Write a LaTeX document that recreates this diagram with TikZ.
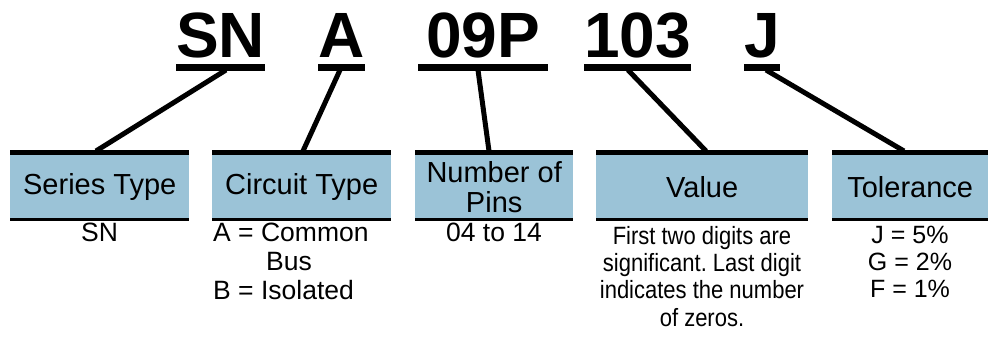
\documentclass[tikz,border=0pt]{standalone}
\usepackage{fontspec}
\setmainfont{Liberation Sans}
\frenchspacing
\definecolor{boxblue}{RGB}{155,195,215}
\begin{document}
\begin{tikzpicture}[x=1pt,y=-1pt,
  code/.style={font=\fontsize{64}{64}\selectfont\bfseries, anchor=base, inner sep=0pt},
  uline/.style={fill=black, inner sep=0pt, minimum height=7pt, anchor=north west},
  conn/.style={line width=5pt},
  catbox/.style={fill=boxblue, inner sep=0pt, minimum height=64pt, anchor=north west,
     font=\fontsize{29}{30}\selectfont, align=center},
  topbar/.style={line width=5pt},
  botbar/.style={line width=2.4pt},
  desc/.style={font=\fontsize{26.5}{29}\selectfont, inner sep=0pt, anchor=north, align=center},
  narrow/.style={font=\fontsize{25}{27.3}\selectfont, inner sep=0pt, anchor=north, align=center, xscale=0.88}
]
\useasboundingbox (0,0) rectangle (989,337);

% code letters
\node[code] (tSN) at (220.5,58) {SN};
\node[code] (tA) at (341.5,58) {A};
\node[code] (t09P) at (483,58) {09P};
\node[code] (t103) at (637.5,58) {103};
\node[code] (tJ) at (762,58) {J};

% underlines
\node[uline, minimum width=89pt] (uSN) at (176,64) {};
\node[uline, minimum width=47pt] (uA) at (318,64) {};
\node[uline, minimum width=130pt] (u09P) at (418,64) {};
\node[uline, minimum width=107pt] (u103) at (584,64) {};
\node[uline, minimum width=36pt] (uJ) at (744,64) {};

% boxes
\node[catbox, minimum width=179pt] (bST) at (10,155) {Series Type};
\node[catbox, minimum width=179pt] (bCT) at (212,155) {Circuit Type};
\node[catbox, minimum width=158pt] (bNP) at (415,155) {Number of\\Pins};
\node[catbox, minimum width=212pt] (bV) at (596,155) {Value};
\node[catbox, minimum width=156pt] (bT) at (832,155) {Tolerance};

\foreach \b in {bST,bCT,bNP,bV,bT}{
  \draw[topbar] ([yshift=2.5pt]\b.north west) -- ([yshift=2.5pt]\b.north east);
  \draw[botbar] (\b.south west) -- (\b.south east);
}

% connector ends
\coordinate (sSN) at (226,70);
\coordinate (eSN) at (96,151);
\coordinate (sA) at (340,70);
\coordinate (eA) at (303,151);
\coordinate (s09P) at (478,70);
\coordinate (e09P) at (489,151);
\coordinate (s103) at (628,70);
\coordinate (e103) at (706,151);
\coordinate (sJ) at (766,70);
\coordinate (eJ) at (904,151);
\draw[conn] (sSN) -- (eSN);
\draw[conn] (sA) -- (eA);
\draw[conn] (s09P) -- (e09P);
\draw[conn] (s103) -- (e103);
\draw[conn] (sJ) -- (eJ);

% descriptions
\node[desc] (dST) at (99.5,223) {SN};
\node[desc, anchor=north west, align=left] (dCT) at (213,223) {A = Common\\\hspace*{53pt}Bus\\B = Isolated};
\node[desc] (dNP) at (494,223) {04 to 14};
\node[narrow] (dV) at (702,226) {First two digits are\\significant. Last digit\\indicates the number\\of zeros.};
\node[desc, font=\fontsize{25}{27}\selectfont] (dT) at (910,226) {J = 5\%\\G = 2\%\\F = 1\%};
\end{tikzpicture}
\end{document}
